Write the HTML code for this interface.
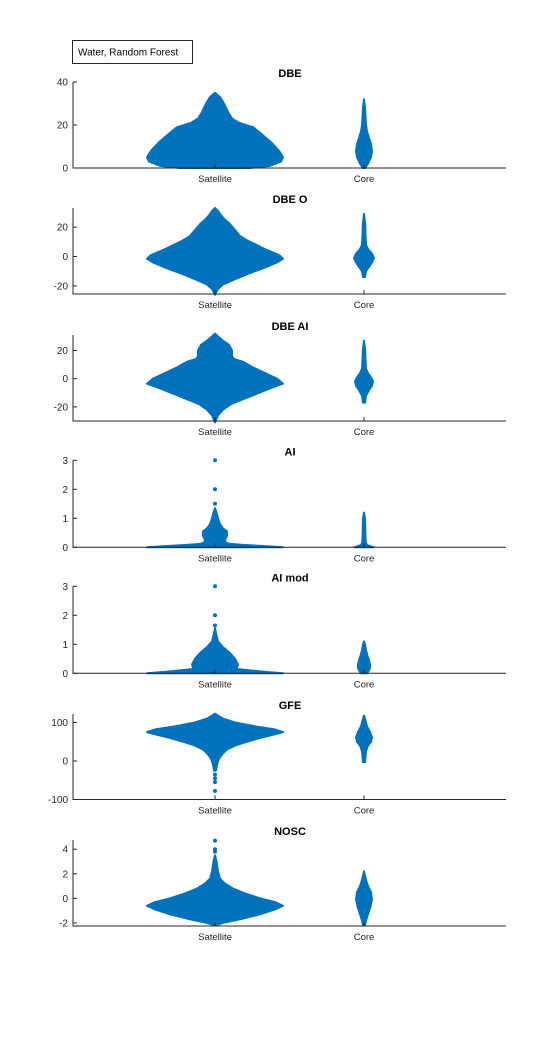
<!DOCTYPE html>
<html><head><meta charset="utf-8"><style>
body{margin:0;background:#fff;width:560px;height:1041px;overflow:hidden}
svg{display:block;font-family:"Liberation Sans",Arial,sans-serif}
</style></head><body>
<svg id="c" width="560" height="1041">
<g>
<rect x="72.5" y="40.5" width="120" height="23" fill="#fff" stroke="#262626" stroke-width="1"/>
<text x="78" y="55.5" font-size="10" fill="#000">Water, Random Forest</text>
</g>
</svg>
<script>
const categories=["Satellite","Core"];
// violin profiles: value levels and half-width densities (px at category spacing 149)
const dbeSatY=[0,1,3,5,8,12,16,19,21,23,26,30,33,35];
const dbeSatW=[35,55,66,68,64,56,46,38,24,17,13,9,5,0];
const dbeCoreY=[0,2,5,8,11,14,17,20,24,28,32];
const dbeCoreW=[1,4,7,8,7,5,3,2,1.5,1,0];
const dboSatY=[-26,-22,-19,-16,-12,-8,-4,-1.5,1,5,9,11,14,18,22,25,28,31,33];
const dboSatW=[0,3,8,18,32,48,62,68,64,50,38,32,25,20,15,10,6,3,0];
const dboCoreY=[-14,-10,-7,-4,-1,2,5,8,15,22,29];
const dboCoreW=[1,2,5,8,10,8,4,2,1.5,1.2,0];
const dbaSatY=[-31,-26,-22,-18,-14,-10,-6,-3.5,0,4,8,12,14,16,20,24,27,30,32];
const dbaSatW=[0,3,8,16,30,44,58,68,62,50,38,28,19,17,17,14,8,3,0];
const dbaCoreY=[-17,-12,-8,-5,-2,1,4,7,14,20,27];
const dbaCoreW=[1,2,5,8,9,7,4,2,1.5,1.2,0];
const aiSatY=[0,0.04,0.08,0.12,0.16,0.25,0.4,0.55,0.65,0.8,1.0,1.2,1.35];
const aiSatW=[68,50,30,15,11,10,12,12,8,5,3,1.5,0];
const aiCoreY=[0,0.04,0.08,0.15,0.3,0.5,0.8,1.0,1.2];
const aiCoreW=[10,6,3,2,1.5,1.3,1.2,1,0];
const amSatY=[0,0.05,0.1,0.15,0.2,0.3,0.5,0.7,0.9,1.1,1.3,1.55];
const amSatW=[68,50,35,22,22,23,20,15,8,3,1.5,0];
const amCoreY=[0,0.1,0.2,0.3,0.45,0.6,0.8,1.0,1.1];
const amCoreW=[3,5,6,6,5,3.5,2,1,0];
const gfeSatY=[-25,-10,0,10,20,30,40,50,60,68,75,82,90,100,110,118,123];
const gfeSatW=[1,2,3,5,8,12,20,32,45,58,68,60,40,20,8,3,0];
const gfeCoreY=[-3,10,25,40,50,62,75,90,105,118];
const gfeCoreW=[1,1.5,2,4,7,8,6,3,1.5,0];
const noscSatY=[-2.2,-2,-1.7,-1.3,-0.9,-0.6,-0.3,0,0.4,0.8,1.2,1.6,2.2,3,3.5];
const noscSatW=[0,8,25,45,60,68,60,45,30,18,10,5,3,1.5,0];
const noscCoreY=[-2.2,-1.8,-1.3,-0.8,-0.1,0.5,1,1.5,2.2];
const noscCoreW=[1,2,4,6,8,7,4,2,0];
// outliers
const aiSatOut=[1.5,2,3];
const amSatOut=[1.65,2,3];
const gfeSatOut=[-35,-45,-55,-78];
const noscSatOut=[3.8,4,4.7];
const emptyOut=[];

const panels=[
 {name:"dbe",title:"DBE",min:0,max:40,top:82,bottom:168,ticks:[0,20,40],sat:[dbeSatY,dbeSatW,emptyOut],core:[dbeCoreY,dbeCoreW,emptyOut]},
 {name:"dbe-o",title:"DBE O",min:-25.5,max:33,top:208,bottom:294,ticks:[-20,0,20],sat:[dboSatY,dboSatW,emptyOut],core:[dboCoreY,dboCoreW,emptyOut]},
 {name:"dbe-ai",title:"DBE AI",min:-30,max:31,top:335,bottom:421,ticks:[-20,0,20],sat:[dbaSatY,dbaSatW,emptyOut],core:[dbaCoreY,dbaCoreW,emptyOut]},
 {name:"ai",title:"AI",min:0,max:3.0,top:460.3,bottom:547.3,ticks:[0,1,2,3],sat:[aiSatY,aiSatW,aiSatOut],core:[aiCoreY,aiCoreW,emptyOut]},
 {name:"ai-mod",title:"AI mod",min:0,max:3.0,top:586.3,bottom:673.3,ticks:[0,1,2,3],sat:[amSatY,amSatW,amSatOut],core:[amCoreY,amCoreW,emptyOut]},
 {name:"gfe",title:"GFE",min:-100,max:122,top:714,bottom:799.5,ticks:[-100,0,100],sat:[gfeSatY,gfeSatW,gfeSatOut],core:[gfeCoreY,gfeCoreW,emptyOut]},
 {name:"nosc",title:"NOSC",min:-2.25,max:4.75,top:840,bottom:926,ticks:[-2,0,2,4],sat:[noscSatY,noscSatW,noscSatOut],core:[noscCoreY,noscCoreW,emptyOut]}
];
const NS="http://www.w3.org/2000/svg";
const svg=document.getElementById("c");
const X0=73,X1=506,C="#0072BD";
const xs=c=>215+(c-1)*149;
function mk(t,a,p){const e=document.createElementNS(NS,t);for(const k in a)e.setAttribute(k,a[k]);(p||svg).appendChild(e);return e;}
panels.forEach(P=>{
 const ys=v=>P.bottom-(v-P.min)/(P.max-P.min)*(P.bottom-P.top);
 const g=mk("g",{});
 
 
 const t=mk("text",{x:290,y:P.top-5,"font-size":11,"font-weight":"bold","text-anchor":"middle",fill:"#000"},g);
 t.textContent=P.title;
 
 
 [[P.sat,1],[P.core,2]].forEach(([d,ci])=>{
  const [Y,W,O]=d,cx=xs(ci);
  const r=[],l=[];
  Y.forEach((v,i)=>{r.push((cx+W[i])+","+ys(v));l.unshift((cx-W[i])+","+ys(v));});
  const pg=mk("polygon",{points:r.concat(l).join(" "),fill:C,stroke:C,"stroke-width":2,"stroke-linejoin":"round"},g);
  
  
  O.forEach(v=>{const c=mk("circle",{cx:cx,cy:ys(v),r:2,fill:C},g);
   
   });
 });
 const ax=mk("path",{d:`M${X0},${P.top}V${P.bottom}H${X1}`,fill:"none",stroke:"#262626","stroke-width":1},g);
 
 
 P.ticks.forEach(v=>{const y=ys(v);
  mk("line",{x1:X0,x2:X0+4,y1:y,y2:y,stroke:"#262626"},g);
  const tl=mk("text",{x:68,y:y+3.5,"font-size":10,"text-anchor":"end",fill:"#262626"},g);
  tl.textContent=v;
  
  });
 categories.forEach((c,i)=>{const x=xs(i+1);
  mk("line",{x1:x,x2:x,y1:P.bottom,y2:P.bottom-4,stroke:"#262626"},g);
  const xl=mk("text",{x:x,y:P.bottom+14,"font-size":9.5,"text-anchor":"middle",fill:"#262626"},g);
  xl.textContent=c;
  
  });
});
</script>
</body></html>
